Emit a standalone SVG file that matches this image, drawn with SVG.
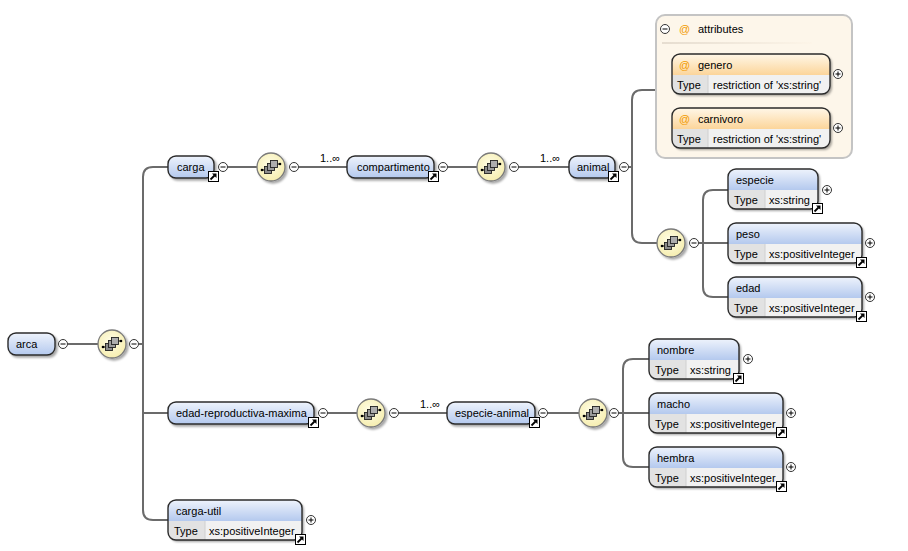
<svg xmlns="http://www.w3.org/2000/svg" xmlns:xlink="http://www.w3.org/1999/xlink" width="908" height="551" viewBox="0 0 908 551">
<style>
text{font-family:"Liberation Sans",Arial,sans-serif;font-size:11px;fill:#000}
.ln{fill:none;stroke:#6b6b6b;stroke-width:2}
.box{fill:url(#blue);stroke:#2b2b2b;stroke-width:1.4}
.ob{fill:none;stroke:#2b2b2b;stroke-width:1.4}
.row{fill:#f1f1f1}
.tc{fill:#e2e2e2}
.at{fill:#f29a00}
.sh{filter:url(#shadow)}
</style>
<defs>
<linearGradient id="blue" x1="0" y1="0" x2="0" y2="1"><stop offset="0" stop-color="#eef3fc"/><stop offset="1" stop-color="#b4c9ee"/></linearGradient>
<linearGradient id="orange" x1="0" y1="0" x2="0" y2="1"><stop offset="0" stop-color="#fff7e8"/><stop offset="1" stop-color="#fcd59a"/></linearGradient>
<radialGradient id="yel" cx="0.45" cy="0.4" r="0.6"><stop offset="0" stop-color="#fffde6"/><stop offset="1" stop-color="#f6eeb0"/></radialGradient>
<linearGradient id="sep" x1="0" y1="0" x2="1" y2="0"><stop offset="0" stop-color="#e6ddd0"/><stop offset="1" stop-color="#fdf5e8"/></linearGradient>
<filter id="shadow" x="-20%" y="-20%" width="150%" height="160%"><feDropShadow dx="2" dy="2" stdDeviation="1" flood-color="#000" flood-opacity="0.35"/></filter>
<g id="minus"><circle r="4.5" fill="#fff" stroke="#333" stroke-width="1"/><path d="M-2.5,0H2.5" stroke="#000" stroke-width="1"/></g>
<g id="plus"><circle r="4.5" fill="#fff" stroke="#333" stroke-width="1"/><path d="M-2.5,0H2.5M0,-2.5V2.5" stroke="#000" stroke-width="1"/></g>
<g id="exp"><rect x="0.5" y="0.5" width="10" height="10" fill="#fff" stroke="#000" stroke-width="1"/><path d="M2.5,8.5L6.5,4.5" stroke="#000" stroke-width="1.8"/><polygon points="4,2.5 8.5,2.5 8.5,7" fill="#000"/></g>
<g id="seq"><circle r="14" fill="url(#yel)" stroke="#7a7a7a" stroke-width="1.3" filter="url(#shadow)"/><path d="M-9,3H-6M6,-3H9" stroke="#000" stroke-width="1"/><circle cx="-9" cy="3" r="1.3" fill="#000"/><circle cx="9" cy="-3" r="1.3" fill="#000"/><rect x="-6.5" y="-0.5" width="7" height="7" fill="#8c8c8c" stroke="#222" stroke-width="0.9"/><rect x="-3.5" y="-3.5" width="7" height="7" fill="#9c9c9c" stroke="#222" stroke-width="0.9"/><rect x="-0.5" y="-6.5" width="7" height="7" fill="#adadad" stroke="#222" stroke-width="0.9"/></g>
</defs>
<rect width="908" height="551" fill="#fff"/>

<g id="connectors">
<path class="ln" d="M68,344H98"/>
<path class="ln" d="M139,344H143"/>
<path class="ln" d="M168,167H153Q143,167 143,177V510Q143,520 153,520H168M143,413H168"/>
<path class="ln" d="M228,167H257"/>
<path class="ln" d="M299,167H347"/>
<path class="ln" d="M448,167H477"/>
<path class="ln" d="M519,167H569"/>
<path class="ln" d="M629,167H632"/>
<path class="ln" d="M656,90H642Q632,90 632,100V233Q632,243 642,243H657"/>
<path class="ln" d="M699,243H703"/>
<path class="ln" d="M728,190H713Q703,190 703,200V287Q703,297 713,297H728M703,243H728"/>
<path class="ln" d="M328,413H357"/>
<path class="ln" d="M399,413H447"/>
<path class="ln" d="M548,413H579"/>
<path class="ln" d="M619,413H623"/>
<path class="ln" d="M649,359H633Q623,359 623,369V457Q623,467 633,467H649M623,413H649"/>
<text x="320" y="162">1..∞</text>
<text x="540" y="162">1..∞</text>
<text x="420" y="408">1..∞</text>
</g>

<g id="arca"><rect class="box sh" x="8" y="333" width="47" height="22" rx="8"/><text x="16" y="348">arca</text><use href="#minus" x="63" y="344"/></g>
<g id="seq1"><use href="#seq" x="112" y="344"/><use href="#minus" x="134" y="344"/></g>

<g id="carga"><rect class="box sh" x="168" y="156" width="46" height="22" rx="8"/><text x="177" y="171">carga</text><use href="#exp" x="208" y="171"/><use href="#minus" x="223" y="167"/></g>
<g id="seq2"><use href="#seq" x="271" y="167"/><use href="#minus" x="294" y="167"/></g>
<g id="compartimento"><rect class="box sh" x="347" y="156" width="87" height="22" rx="8"/><text x="357" y="171">compartimento</text><use href="#exp" x="428" y="171"/><use href="#minus" x="443" y="167"/></g>
<g id="seq3"><use href="#seq" x="491" y="167"/><use href="#minus" x="514" y="167"/></g>
<g id="animal"><rect class="box sh" x="569" y="156" width="46" height="22" rx="8"/><text x="577" y="171">animal</text><use href="#exp" x="608" y="171"/><use href="#minus" x="624" y="167"/></g>

<g id="attributes">
<rect x="656" y="15" width="196" height="143" rx="9" fill="#fdf6ea" stroke="#c4c4c4" stroke-width="2"/>
<use href="#minus" x="665" y="29"/>
<text class="at" x="679" y="33">@</text><text x="698" y="33">attributes</text>
<rect x="662" y="42" width="150" height="2" fill="url(#sep)"/>
</g>
<g id="genero">
<g class="sh"><rect class="row" x="672" y="54" width="158" height="40" rx="8"/></g>
<path d="M672,75V62Q672,54 680,54H822Q830,54 830,62V75Z" fill="url(#orange)"/>
<path class="tc" d="M672,75H708V94H680Q672,94 672,86Z"/>
<path d="M708,75V94" stroke="#d0d0d0"/>
<rect class="ob" x="672" y="54" width="158" height="40" rx="8"/>
<text class="at" x="679" y="69">@</text><text x="698" y="69">genero</text>
<text x="677" y="89">Type</text><text x="713" y="89">restriction of 'xs:string'</text>
<use href="#plus" x="838" y="74"/>
</g>
<g id="carnivoro">
<g class="sh"><rect class="row" x="672" y="108" width="158" height="40" rx="8"/></g>
<path d="M672,129V116Q672,108 680,108H822Q830,108 830,116V129Z" fill="url(#orange)"/>
<path class="tc" d="M672,129H708V148H680Q672,148 672,140Z"/>
<path d="M708,129V148" stroke="#d0d0d0"/>
<rect class="ob" x="672" y="108" width="158" height="40" rx="8"/>
<text class="at" x="679" y="123">@</text><text x="698" y="123">carnivoro</text>
<text x="677" y="143">Type</text><text x="713" y="143">restriction of 'xs:string'</text>
<use href="#plus" x="838" y="128"/>
</g>

<g id="seq4"><use href="#seq" x="671" y="243"/><use href="#minus" x="694" y="243"/></g>

<g id="especie">
<g class="sh"><rect class="row" x="728" y="169" width="90" height="40" rx="8"/></g>
<path d="M728,190V177Q728,169 736,169H810Q818,169 818,177V190Z" fill="url(#blue)"/>
<path class="tc" d="M728,190H765V209H736Q728,209 728,201Z"/>
<path d="M765,190V209" stroke="#d0d0d0"/>
<rect class="ob" x="728" y="169" width="90" height="40" rx="8"/>
<text x="736" y="184">especie</text><text x="734" y="204">Type</text><text x="769" y="204">xs:string</text>
<use href="#exp" x="812" y="203"/><use href="#plus" x="827" y="190"/>
</g>
<g id="peso">
<g class="sh"><rect class="row" x="728" y="223" width="134" height="40" rx="8"/></g>
<path d="M728,244V231Q728,223 736,223H854Q862,223 862,231V244Z" fill="url(#blue)"/>
<path class="tc" d="M728,244H765V263H736Q728,263 728,255Z"/>
<path d="M765,244V263" stroke="#d0d0d0"/>
<rect class="ob" x="728" y="223" width="134" height="40" rx="8"/>
<text x="736" y="238">peso</text><text x="734" y="258">Type</text><text x="769" y="258">xs:positiveInteger</text>
<use href="#exp" x="856" y="257"/><use href="#plus" x="870" y="243"/>
</g>
<g id="edad">
<g class="sh"><rect class="row" x="728" y="277" width="134" height="40" rx="8"/></g>
<path d="M728,298V285Q728,277 736,277H854Q862,277 862,285V298Z" fill="url(#blue)"/>
<path class="tc" d="M728,298H765V317H736Q728,317 728,309Z"/>
<path d="M765,298V317" stroke="#d0d0d0"/>
<rect class="ob" x="728" y="277" width="134" height="40" rx="8"/>
<text x="736" y="292">edad</text><text x="734" y="312">Type</text><text x="769" y="312">xs:positiveInteger</text>
<use href="#exp" x="856" y="311"/><use href="#plus" x="870" y="297"/>
</g>

<g id="edad-reproductiva-maxima"><rect class="box sh" x="168" y="402" width="146" height="22" rx="8"/><text x="176" y="417">edad-reproductiva-maxima</text><use href="#exp" x="308" y="417"/><use href="#minus" x="323" y="413"/></g>
<g id="seq5"><use href="#seq" x="371" y="413"/><use href="#minus" x="394" y="413"/></g>
<g id="especie-animal"><rect class="box sh" x="447" y="402" width="88" height="22" rx="8"/><text x="455" y="417">especie-animal</text><use href="#exp" x="529" y="417"/><use href="#minus" x="543" y="413"/></g>
<g id="seq6"><use href="#seq" x="593" y="413"/><use href="#minus" x="614" y="413"/></g>

<g id="nombre">
<g class="sh"><rect class="row" x="649" y="339" width="90" height="40" rx="8"/></g>
<path d="M649,360V347Q649,339 657,339H731Q739,339 739,347V360Z" fill="url(#blue)"/>
<path class="tc" d="M649,360H686V379H657Q649,379 649,371Z"/>
<path d="M686,360V379" stroke="#d0d0d0"/>
<rect class="ob" x="649" y="339" width="90" height="40" rx="8"/>
<text x="657" y="354">nombre</text><text x="655" y="374">Type</text><text x="690" y="374">xs:string</text>
<use href="#exp" x="733" y="373"/><use href="#plus" x="748" y="359"/>
</g>
<g id="macho">
<g class="sh"><rect class="row" x="649" y="393" width="134" height="40" rx="8"/></g>
<path d="M649,414V401Q649,393 657,393H775Q783,393 783,401V414Z" fill="url(#blue)"/>
<path class="tc" d="M649,414H686V433H657Q649,433 649,425Z"/>
<path d="M686,414V433" stroke="#d0d0d0"/>
<rect class="ob" x="649" y="393" width="134" height="40" rx="8"/>
<text x="657" y="408">macho</text><text x="655" y="428">Type</text><text x="690" y="428">xs:positiveInteger</text>
<use href="#exp" x="776" y="427"/><use href="#plus" x="791" y="413"/>
</g>
<g id="hembra">
<g class="sh"><rect class="row" x="649" y="447" width="134" height="40" rx="8"/></g>
<path d="M649,468V455Q649,447 657,447H775Q783,447 783,455V468Z" fill="url(#blue)"/>
<path class="tc" d="M649,468H686V487H657Q649,487 649,479Z"/>
<path d="M686,468V487" stroke="#d0d0d0"/>
<rect class="ob" x="649" y="447" width="134" height="40" rx="8"/>
<text x="657" y="462">hembra</text><text x="655" y="482">Type</text><text x="690" y="482">xs:positiveInteger</text>
<use href="#exp" x="776" y="481"/><use href="#plus" x="791" y="467"/>
</g>

<g id="carga-util">
<g class="sh"><rect class="row" x="168" y="500" width="134" height="40" rx="8"/></g>
<path d="M168,521V508Q168,500 176,500H294Q302,500 302,508V521Z" fill="url(#blue)"/>
<path class="tc" d="M168,521H205V540H176Q168,540 168,532Z"/>
<path d="M205,521V540" stroke="#d0d0d0"/>
<rect class="ob" x="168" y="500" width="134" height="40" rx="8"/>
<text x="176" y="515">carga-util</text><text x="174" y="535">Type</text><text x="209" y="535">xs:positiveInteger</text>
<use href="#exp" x="295" y="534"/><use href="#plus" x="311" y="520"/>
</g>
</svg>
